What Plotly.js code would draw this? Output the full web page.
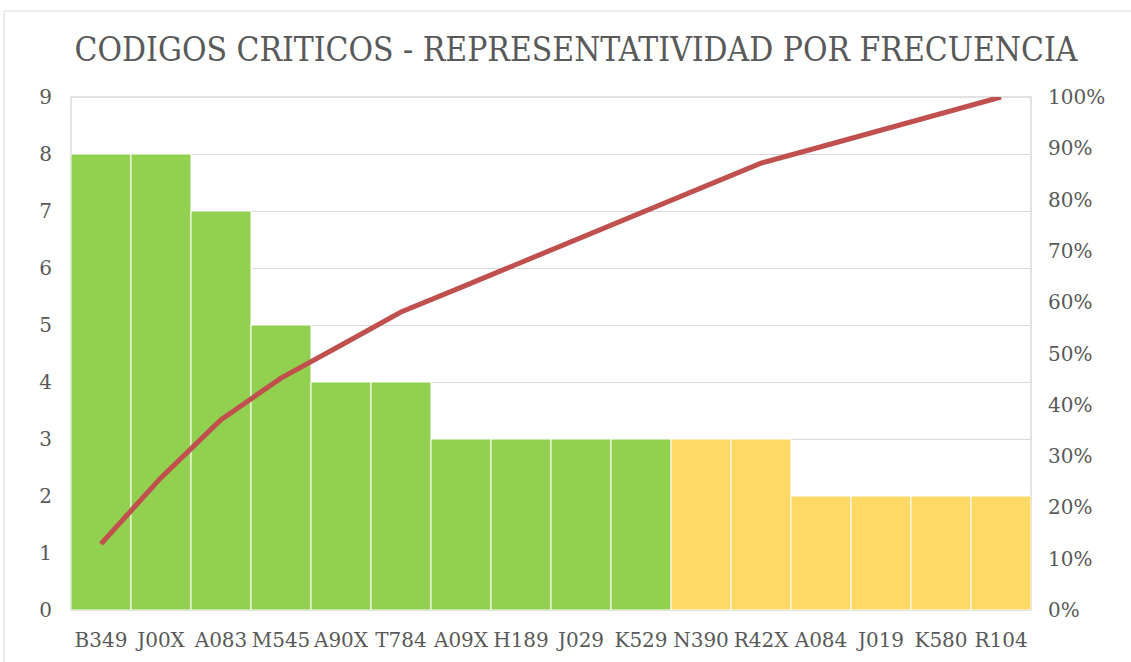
<!DOCTYPE html>
<html>
<head>
<meta charset="utf-8">
<script src="https://cdn.plot.ly/plotly-3.0.1.min.js"></script>
<style>html,body{margin:0;padding:0;background:#fff;}#chart{width:1131px;height:662px;}</style>
</head>
<body>
<div id="chart"></div>
<script>
const categories = ["B349","J00X","A083","M545","A90X","T784","A09X","H189","J029","K529","N390","R42X","A084","J019","K580","R104"];
const frequency = [8,8,7,5,4,4,3,3,3,3,3,3,2,2,2,2];
const cumulativePct = [0.129,0.258,0.371,0.452,0.516,0.581,0.629,0.677,0.726,0.774,0.823,0.871,0.903,0.935,0.968,1.0];
const barColors = ["#92D050","#92D050","#92D050","#92D050","#92D050","#92D050","#92D050","#92D050","#92D050","#92D050","#FFD966","#FFD966","#FFD966","#FFD966","#FFD966","#FFD966"];

const tickFont = "DejaVu Serif, Liberation Serif, serif";
const titleFont = "DejaVu Serif Condensed, DejaVu Serif, serif";
const traces = [
  {type:"bar", x:categories, y:frequency, marker:{color:barColors, line:{color:"#ffffff", width:1}}, hoverinfo:"x+y"},
  {type:"scatter", mode:"lines", x:categories, y:cumulativePct, yaxis:"y2", line:{color:"#C0504D", width:5}}
];
const layout = {
  width:1131, height:662,
  margin:{l:71, r:100, t:97, b:52},
  showlegend:false,
  bargap:0,
  paper_bgcolor:"#ffffff", plot_bgcolor:"#ffffff",
  font:{family:tickFont, color:"#595959", size:20},
  title:{text:"CODIGOS CRITICOS - REPRESENTATIVIDAD POR FRECUENCIA", font:{family:titleFont, size:33.3, color:"#595959"}, x:0.5093, xanchor:"center", y:0.925, yanchor:"middle"},
  xaxis:{type:"category", showgrid:false, showline:false, ticks:"", tickfont:{size:20, color:"#595959"}, ticklabelstandoff:16, automargin:false},
  yaxis:{range:[0,9], dtick:1, showgrid:true, gridcolor:"#d9d9d9", gridwidth:1, zeroline:false, showline:false, ticks:"", tickfont:{size:20, color:"#595959"}, ticklabelstandoff:18, automargin:false},
  yaxis2:{range:[0,1], dtick:0.1, tickformat:".0%", overlaying:"y", side:"right", showgrid:false, zeroline:false, showline:false, ticks:"", tickfont:{size:20, color:"#595959"}, ticklabelstandoff:16, automargin:false},
  shapes:[
    {type:"rect", xref:"paper", yref:"paper", x0:-0.0697, x1:1.2, y0:-0.3, y1:1.1676, line:{color:"#d9d9d9", width:1}, fillcolor:"rgba(0,0,0,0)", layer:"below"},
    {type:"rect", xref:"paper", yref:"paper", x0:0, x1:1, y0:0, y1:1, line:{color:"#d9d9d9", width:1.5}, fillcolor:"rgba(0,0,0,0)", layer:"below"}
  ]
};
Plotly.newPlot("chart", traces, layout, {displayModeBar:false, staticPlot:true});
</script>
</body>
</html>
